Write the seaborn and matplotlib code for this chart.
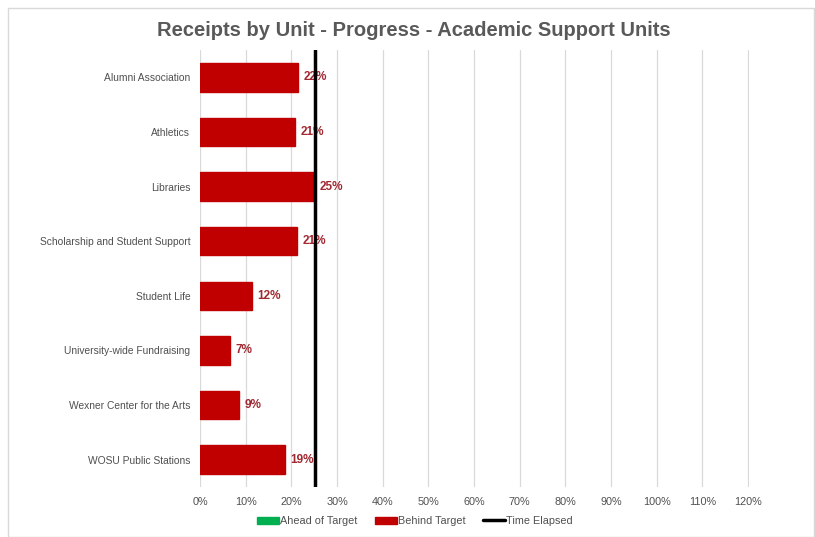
import matplotlib
matplotlib.use("Agg")
import matplotlib.pyplot as plt
from matplotlib.patches import Rectangle, Patch
from matplotlib.lines import Line2D
from matplotlib.ticker import FuncFormatter
import seaborn as sns
import pandas as pd

units = ["Alumni Association", "Athletics", "Libraries", "Scholarship and Student Support",
         "Student Life", "University-wide Fundraising", "Wexner Center for the Arts",
         "WOSU Public Stations"]
progress = [0.214, 0.208, 0.250, 0.212, 0.114, 0.066, 0.085, 0.186]
labels = ["22%", "21%", "25%", "21%", "12%", "7%", "9%", "19%"]
time_elapsed = 0.252
xticks = [i / 10 for i in range(13)]

df = pd.DataFrame({"unit": units, "progress": progress})

sns.set_theme(style="white")
plt.rcParams['font.family'] = ['Liberation Sans', 'DejaVu Sans']

fig = plt.figure(figsize=(8.15, 5.37), dpi=100)
ax = fig.add_axes([200 / 815, 1 - 487 / 537, 549 / 815, 437 / 537])

red = "#C00000"
sns.barplot(data=df, x="progress", y="unit", orient="h", color=red, width=0.52,
            saturation=1, ax=ax, edgecolor=red)

for i, (v, lab) in enumerate(zip(progress, labels)):
    ax.text(v + 0.012, i, lab, va="center", ha="left", fontsize=8.5,
            fontweight="bold", color="#A02830")

ax.axvline(time_elapsed, color="black", lw=2.5, zorder=5)

ax.set_xlim(0, 1.202)
ax.set_ylim(7.5, -0.5)
ax.set_xticks(xticks)
ax.xaxis.set_major_formatter(FuncFormatter(lambda x, p: f"{round(x * 100)}%"))
ax.grid(axis="x", color="#D9D9D9", lw=0.9)
ax.set_axisbelow(True)
for s in ax.spines.values():
    s.set_visible(False)
ax.set_xlabel("")
ax.set_ylabel("")
ax.tick_params(axis="both", length=0, colors="#505050")
ax.tick_params(axis="x", pad=7, labelsize=7.8)
ax.tick_params(axis="y", pad=7, labelsize=7.4)

fig.text(0.508, 0.943, "Receipts by Unit - Progress - Academic Support Units",
         ha="center", va="center", fontsize=14.5, fontweight="bold", color="#595959")

handles = [Patch(color="#00B050", label="Ahead of Target"),
           Patch(color=red, label="Behind Target"),
           Line2D([0], [0], color="black", lw=2.5, label="Time Elapsed")]
fig.legend(handles=handles, loc="center", bbox_to_anchor=(415 / 815, 1 - 521 / 537),
           ncol=3, frameon=False, fontsize=7.8, handlelength=2.0, handleheight=0.6,
           columnspacing=1.6, handletextpad=0.15, labelcolor="#505050")

fig.patches.append(Rectangle((8 / 815, 0.0), 806 / 815, 1 - 8 / 537,
                             transform=fig.transFigure, fill=False,
                             edgecolor="#D9D9D9", lw=1))

fig.savefig("out.png", dpi=100)
